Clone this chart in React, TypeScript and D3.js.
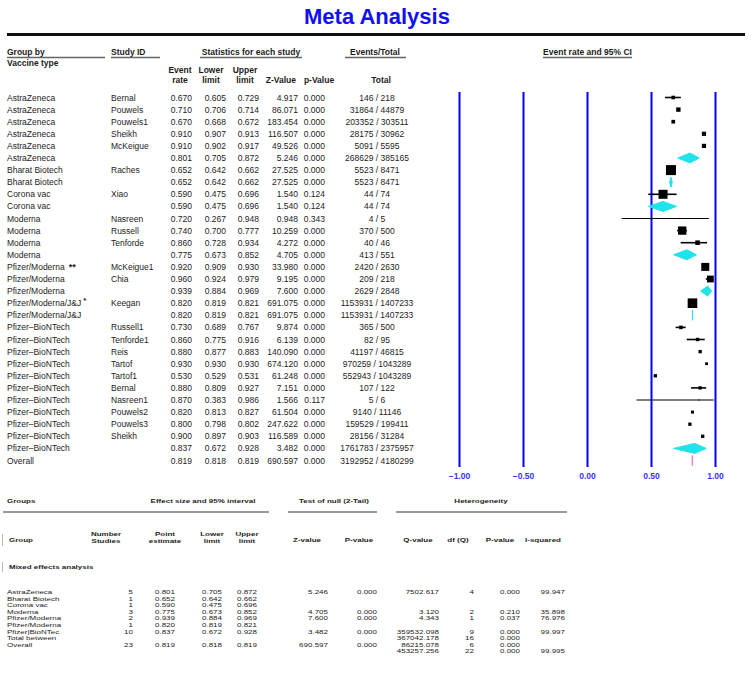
import React from "react";
import * as d3 from "d3";

// ---------- Top table data ----------
const groupNames = [
  "AstraZeneca", "AstraZeneca", "AstraZeneca", "AstraZeneca", "AstraZeneca", "AstraZeneca",
  "Bharat Biotech", "Bharat Biotech", "Corona vac", "Corona vac",
  "Moderna", "Moderna", "Moderna", "Moderna",
  "Pfizer/Moderna", "Pfizer/Moderna", "Pfizer/Moderna",
  "Pfizer/Moderna/J&J", "Pfizer/Moderna/J&J",
  "Pfizer\u2013BioNTech", "Pfizer\u2013BioNTech", "Pfizer\u2013BioNTech", "Pfizer\u2013BioNTech",
  "Pfizer\u2013BioNTech", "Pfizer\u2013BioNTech", "Pfizer\u2013BioNTech", "Pfizer\u2013BioNTech",
  "Pfizer\u2013BioNTech", "Pfizer\u2013BioNTech", "Pfizer\u2013BioNTech", "Overall",
];
const groupMarks = [
  "", "", "", "", "", "", "", "", "", "", "", "", "", "",
  "**", "", "", "*", "", "", "", "", "", "", "", "", "", "", "", "", "",
];
const studyIds = [
  "Bernal", "Pouwels", "Pouwels1", "Sheikh", "McKeigue", "",
  "Raches", "", "Xiao", "",
  "Nasreen", "Russell", "Tenforde", "",
  "McKeigue1", "Chia", "",
  "Keegan", "",
  "Russell1", "Tenforde1", "Reis", "Tartof", "Tartof1", "Bernal", "Nasreen1",
  "Pouwels2", "Pouwels3", "Sheikh", "", "",
];
const rowKinds = [
  "study", "study", "study", "study", "study", "summary",
  "study", "summary", "study", "summary",
  "study", "study", "study", "summary",
  "study", "study", "summary",
  "study", "summary",
  "study", "study", "study", "study", "study", "study", "study", "study", "study", "study", "summary",
  "overall",
];
const eventRates = [
  0.670, 0.710, 0.670, 0.910, 0.910, 0.801, 0.652, 0.652, 0.590, 0.590,
  0.720, 0.740, 0.860, 0.775, 0.920, 0.960, 0.939, 0.820, 0.820,
  0.730, 0.860, 0.880, 0.930, 0.530, 0.880, 0.870, 0.820, 0.800, 0.900, 0.837, 0.819,
];
const lowerLimits = [
  0.605, 0.706, 0.668, 0.907, 0.902, 0.705, 0.642, 0.642, 0.475, 0.475,
  0.267, 0.700, 0.728, 0.673, 0.909, 0.924, 0.884, 0.819, 0.819,
  0.689, 0.775, 0.877, 0.930, 0.529, 0.809, 0.383, 0.813, 0.798, 0.897, 0.672, 0.818,
];
const upperLimits = [
  0.729, 0.714, 0.672, 0.913, 0.917, 0.872, 0.662, 0.662, 0.696, 0.696,
  0.948, 0.777, 0.934, 0.852, 0.930, 0.979, 0.969, 0.821, 0.821,
  0.767, 0.916, 0.883, 0.930, 0.531, 0.927, 0.986, 0.827, 0.802, 0.903, 0.928, 0.819,
];
const zValues = [
  "4.917", "86.071", "183.454", "116.507", "49.526", "5.246", "27.525", "27.525", "1.540", "1.540",
  "0.948", "10.259", "4.272", "4.705", "33.980", "9.195", "7.600", "691.075", "691.075",
  "9.874", "6.139", "140.090", "674.120", "61.248", "7.151", "1.566", "61.504", "247.622", "116.589", "3.482", "690.597",
];
const pValues = [
  "0.000", "0.000", "0.000", "0.000", "0.000", "0.000", "0.000", "0.000", "0.124", "0.124",
  "0.343", "0.000", "0.000", "0.000", "0.000", "0.000", "0.000", "0.000", "0.000",
  "0.000", "0.000", "0.000", "0.000", "0.000", "0.000", "0.117", "0.000", "0.000", "0.000", "0.000", "0.000",
];
const eventCounts = [
  146, 31864, 203352, 28175, 5091, 268629, 5523, 5523, 44, 44,
  4, 370, 40, 413, 2420, 209, 2629, 1153931, 1153931,
  365, 82, 41197, 970259, 552943, 107, 5, 9140, 159529, 28156, 1761783, 3192952,
];
const totalCounts = [
  218, 44879, 303511, 30962, 5595, 385165, 8471, 8471, 74, 74,
  5, 500, 46, 551, 2630, 218, 2848, 1407233, 1407233,
  500, 95, 46815, 1043289, 1043289, 122, 6, 11146, 199411, 31284, 2375957, 4180299,
];
// relative weights of individual studies (box size)
const studyWeights = [
  3.6, 4.4, 3.7, 4.2, 4.2, 0, 10, 0, 9, 0,
  1.2, 8.3, 4.6, 0, 8, 6.8, 0, 9.6, 0,
  3.6, 3.4, 3.3, 2.8, 3.3, 3.3, 1.2, 3.0, 3.3, 3.3, 0, 0,
];
const axisTicks = [-1, -0.5, 0, 0.5, 1];

// ---------- Bottom table data ----------
const bGroups = ["AstraZeneca", "Bharat Biotech", "Corona vac", "Moderna", "Pfizer/Moderna", "Pfizer/Moderna", "Pfizer|BioNTec", "Total between", "Overall", ""];
const bNumStudies = ["5", "1", "1", "3", "2", "1", "10", "", "23", ""];
const bPoint = ["0.801", "0.652", "0.590", "0.775", "0.939", "0.820", "0.837", "", "0.819", ""];
const bLower = ["0.705", "0.642", "0.475", "0.673", "0.884", "0.819", "0.672", "", "0.818", ""];
const bUpper = ["0.872", "0.662", "0.696", "0.852", "0.969", "0.821", "0.928", "", "0.819", ""];
const bZ = ["5.246", "", "", "4.705", "7.600", "", "3.482", "", "690.597", ""];
const bP = ["0.000", "", "", "0.000", "0.000", "", "0.000", "", "0.000", ""];
const bQ = ["7502.617", "", "", "3.120", "4.343", "", "359532.098", "367042.178", "86215.078", "453257.256"];
const bDf = ["4", "", "", "2", "1", "", "9", "16", "6", "22"];
const bPh = ["0.000", "", "", "0.210", "0.037", "", "0.000", "0.000", "0.000", "0.000"];
const bI2 = ["99.947", "", "", "35.898", "76.976", "", "99.997", "", "", "99.995"];

const FONT = "'Liberation Sans', Arial, sans-serif";
const TXT = "#1c1c1c";
const BLUE = "#0000ff";
const CYAN = "#1fe3ea";
const PINK = "#ff6fe0";

export default function App() {
  const W = 754, H = 690;
  const idx = d3.range(groupNames.length);
  const y = d3.scalePoint<number>().domain(idx).range([97.5, 97.5 + 30 * 12.1]);
  const x = d3.scaleLinear().domain([-1, 1]).range([459.5, 715.5]);
  const box = d3.scaleLinear().domain([0, 10]).range([0, 10]);
  const fmt = d3.format(".3f");

  const colEvent = 192, colLower = 226, colUpper = 259, colZ = 298, colP = 325, colTotal = 377;

  const hdr = (t: string, xx: number, yy: number, anchor: string = "start") => (
    <text x={xx} y={yy} textAnchor={anchor as any} fontWeight="bold" fontSize={8.5} fill={TXT}>{t}</text>
  );

  // bottom table compression
  const B0 = 495, S = 0.66;
  const by = (v: number) => (v - B0) / S;
  const bRow = d3.scalePoint<number>().domain(d3.range(bGroups.length)).range([592, 592 + 9 * 6.6]);
  const bt = (t: string, xx: number, yy: number, anchor: string = "end", bold = false) => (
    <text x={xx} y={by(yy)} textAnchor={anchor as any} fontWeight={bold ? "bold" : "normal"} fontSize={8} fill="#222">{t}</text>
  );

  return (
    <svg width={W} height={H} style={{ position: "absolute", left: 0, top: 0, background: "#fff" }} fontFamily={FONT}>
      <rect width={W} height={H} fill="#fff" />
      <text x={377} y={24} textAnchor="middle" fontSize={22} fontWeight="bold" fill="#1010f0">Meta Analysis</text>
      <line x1={7} x2={745} y1={34.5} y2={34.5} stroke="#111" strokeWidth={3} />

      {/* headers */}
      {hdr("Group by", 7, 55)}
      <line x1={7} x2={105} y1={57.5} y2={57.5} stroke="#666" strokeWidth={1.5} />
      {hdr("Vaccine type", 7, 66)}
      {hdr("Study ID", 111, 55)}
      <line x1={111} x2={160} y1={57.5} y2={57.5} stroke="#666" strokeWidth={1.5} />
      {hdr("Statistics for each study", 251, 55, "middle")}
      <line x1={200} x2={302} y1={57.5} y2={57.5} stroke="#666" strokeWidth={1.5} />
      {hdr("Events/Total", 375, 55, "middle")}
      <line x1={345} x2={406} y1={57.5} y2={57.5} stroke="#666" strokeWidth={1.5} />
      {hdr("Event rate and 95% CI", 587.5, 55, "middle")}
      <line x1={543} x2={632} y1={57.5} y2={57.5} stroke="#666" strokeWidth={1.5} />

      {hdr("Event", 180, 73, "middle")}
      {hdr("rate", 180, 83, "middle")}
      {hdr("Lower", 211, 73, "middle")}
      {hdr("limit", 211, 83, "middle")}
      {hdr("Upper", 245, 73, "middle")}
      {hdr("limit", 245, 83, "middle")}
      {hdr("Z-Value", 296, 83, "end")}
      {hdr("p-Value", 319, 83, "middle")}
      {hdr("Total", 381, 83, "middle")}

      {/* rows */}
      {idx.map((i) => {
        const yy = (y(i) as number) + 3;
        return (
          <g key={"r" + i} fontSize={8.5} fill={TXT}>
            <text x={7} y={yy}>
              {groupNames[i]}
              {groupMarks[i] === "**" && <tspan fontWeight="bold" fontSize={9} dx={4}>**</tspan>}
              {groupMarks[i] === "*" && <tspan fontWeight="bold" fontSize={8} dx={2} dy={-3}>*</tspan>}
            </text>
            <text x={111} y={yy}>{studyIds[i]}</text>
            <text x={colEvent} y={yy} textAnchor="end">{fmt(eventRates[i])}</text>
            <text x={colLower} y={yy} textAnchor="end">{fmt(lowerLimits[i])}</text>
            <text x={colUpper} y={yy} textAnchor="end">{fmt(upperLimits[i])}</text>
            <text x={colZ} y={yy} textAnchor="end">{zValues[i]}</text>
            <text x={colP} y={yy} textAnchor="end">{pValues[i]}</text>
            <text x={colTotal} y={yy} textAnchor="middle">{`${eventCounts[i]} / ${totalCounts[i]}`}</text>
          </g>
        );
      })}

      {/* forest grid */}
      {axisTicks.map((t) => (
        <g key={"t" + t}>
          <line x1={x(t)} x2={x(t)} y1={92} y2={467} stroke={BLUE} strokeWidth={2} />
          <text x={x(t)} y={478.5} textAnchor="middle" fontSize={8.5} fontWeight="bold" fill="#3434ff">{d3.format(".2f")(t)}</text>
        </g>
      ))}

      {/* forest marks */}
      {idx.map((i) => {
        const cy = y(i) as number;
        const kind = rowKinds[i];
        if (kind === "study") {
          const s = box(studyWeights[i]);
          return (
            <g key={"m" + i}>
              <line x1={x(lowerLimits[i])} x2={x(upperLimits[i])} y1={cy} y2={cy} stroke="#000" strokeWidth={studyWeights[i] < 2 ? 1.2 : 1.6} />
              <rect x={x(eventRates[i]) - s / 2} y={cy - s / 2} width={s} height={s} fill="#000" />
            </g>
          );
        }
        const col = kind === "overall" ? PINK : CYAN;
        const l = x(lowerLimits[i]), r = x(upperLimits[i]), m = x(eventRates[i]);
        const p = `M${l},${cy} L${m},${cy - 5} L${r},${cy} L${m},${cy + 5} Z`;
        return <path key={"m" + i} d={p} fill={col} stroke={col} strokeWidth={1} strokeLinejoin="round" />;
      })}

      {/* bottom table (vertically compressed) */}
      <line x1={2.5} x2={2.5} y1={534} y2={546} stroke="#bbb" strokeWidth={1} />
      <line x1={2.5} x2={2.5} y1={562} y2={572} stroke="#bbb" strokeWidth={1} />
      <line x1={3} x2={269} y1={512} y2={512} stroke="#777" strokeWidth={1.4} />
      <line x1={288} x2={377} y1={512} y2={512} stroke="#777" strokeWidth={1.4} />
      <line x1={396} x2={567} y1={512} y2={512} stroke="#777" strokeWidth={1.4} />
      <g transform={`translate(0,${B0}) scale(1,${S})`}>
        {bt("Groups", 7, 503.5, "start", true)}
        {bt("Effect size and 95% interval", 203, 503.5, "middle", true)}
        {bt("Test of null (2-Tail)", 334, 503.5, "middle", true)}
        {bt("Heterogeneity", 481, 503.5, "middle", true)}
        {bt("Number", 106, 536, "middle", true)}
        {bt("Studies", 106, 543, "middle", true)}
        {bt("Point", 165, 536, "middle", true)}
        {bt("estimate", 165, 543, "middle", true)}
        {bt("Lower", 212, 536, "middle", true)}
        {bt("limit", 212, 543, "middle", true)}
        {bt("Upper", 247, 536, "middle", true)}
        {bt("limit", 247, 543, "middle", true)}
        {bt("Group", 9, 542.5, "start", true)}
        {bt("Z-value", 307, 542.5, "middle", true)}
        {bt("P-value", 359, 542.5, "middle", true)}
        {bt("Q-value", 418, 542.5, "middle", true)}
        {bt("df (Q)", 458, 542.5, "middle", true)}
        {bt("P-value", 500, 542.5, "middle", true)}
        {bt("I-squared", 543, 542.5, "middle", true)}
        {bt("Mixed effects analysis", 9, 569.5, "start", true)}
        {bGroups.map((g, i) => {
          const yy = (bRow(i) as number) + 2;
          return (
            <g key={"b" + i}>
              {bt(g, 7, yy, "start")}
              {bt(bNumStudies[i], 133, yy)}
              {bt(bPoint[i], 175, yy)}
              {bt(bLower[i], 222, yy)}
              {bt(bUpper[i], 257, yy)}
              {bt(bZ[i], 328, yy)}
              {bt(bP[i], 377, yy)}
              {bt(bQ[i], 439, yy)}
              {bt(bDf[i], 474, yy)}
              {bt(bPh[i], 520, yy)}
              {bt(bI2[i], 565, yy)}
            </g>
          );
        })}
      </g>
    </svg>
  );
}
